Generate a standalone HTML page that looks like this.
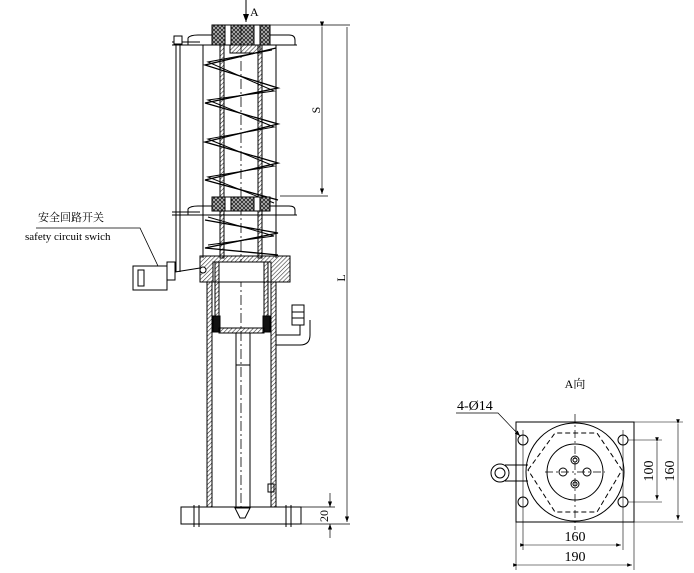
<!DOCTYPE html>
<html><head><meta charset="utf-8"><style>
html,body{margin:0;padding:0;background:#fff;}
svg{display:block;font-family:"Liberation Serif","Noto Serif CJK SC",serif;}
</style></head><body>
<svg width="694" height="573" viewBox="0 0 694 573" xmlns="http://www.w3.org/2000/svg">
<defs>
<pattern id="h" width="3" height="3" patternUnits="userSpaceOnUse" patternTransform="rotate(45)"><line x1="0" y1="0" x2="0" y2="3" stroke="#333" stroke-width="1.2"/></pattern>
<pattern id="x" width="4" height="4" patternUnits="userSpaceOnUse"><rect width="4" height="4" fill="#bbb"/><path d="M0 0L4 4M4 0L0 4" stroke="#222" stroke-width="0.8"/></pattern>
<marker id="ar" markerWidth="8" markerHeight="6" refX="8" refY="3" orient="auto"><path d="M0 0L8 3L0 6z" fill="#000"/></marker>
</defs>
<g stroke="#000" stroke-width="1" fill="none">
<line x1="246" y1="0" x2="246" y2="22" marker-end="url(#ar)"/>
<rect x="212" y="25" width="58" height="20" fill="url(#x)"/>
<rect x="225" y="25" width="6" height="20" fill="#fff"/><rect x="254" y="25" width="6" height="20" fill="#fff"/>
<path d="M188 45 L188 38 Q190 35 198 35 L212 35 M270 35 L289 35 Q295 35 295 40 L295 45" />
<line x1="172" y1="45" x2="297" y2="45"/><line x1="172" y1="42" x2="200" y2="42"/>
<rect x="174" y="36" width="8" height="8" fill="#fff"/>
<rect x="230" y="45" width="30" height="8" fill="url(#h)"/>
<line x1="176" y1="45" x2="176" y2="272"/><line x1="180" y1="45" x2="180" y2="272"/>
<line x1="203" y1="45" x2="203" y2="258"/><line x1="276" y1="45" x2="276" y2="258"/>
<rect x="220" y="45" width="4" height="213" fill="url(#h)"/>
<rect x="258" y="45" width="4" height="213" fill="url(#h)"/>
<line x1="241" y1="25" x2="241" y2="520" stroke-dasharray="10,3,2,3" stroke-width="0.8"/>
<polyline stroke-width="1.3" points="276,48 205,65 278,88 205,103 278,124 205,142 278,163 205,180 278,200"/>
<polyline stroke-width="1" points="272,50 208,62 274,91 208,100 274,127 208,139 274,166 208,177 274,203"/>
<polyline stroke-width="1.3" points="205,220 278,233 205,248 278,255"/>
<polyline stroke-width="1" points="208,217 274,236 208,245"/>
<rect x="212" y="197" width="58" height="14" fill="url(#x)"/>
<rect x="225" y="197" width="6" height="14" fill="#fff"/><rect x="254" y="197" width="6" height="14" fill="#fff"/>
<path d="M188 215 L188 209 Q190 206 198 206 L212 206 M270 206 L289 206 Q295 206 295 210 L295 215"/>
<line x1="172" y1="215" x2="297" y2="215"/><line x1="172" y1="212" x2="200" y2="212"/>
<rect x="200" y="256" width="90" height="26" fill="url(#h)"/>
<rect x="213" y="262" width="58" height="20" fill="#fff"/>
<circle cx="203" cy="270" r="3" fill="#fff"/>
<rect x="133" y="266" width="34" height="24" fill="#fff"/>
<rect x="138" y="270" width="6" height="16"/>
<rect x="167" y="262" width="8" height="18"/>
<line x1="175" y1="272" x2="200" y2="268"/>
<path d="M36 228 L140 228 L158 266" stroke-width="0.8"/>
<rect x="207" y="282" width="5" height="226" fill="url(#h)"/>
<rect x="271" y="282" width="5" height="226" fill="url(#h)"/>
<rect x="215" y="262" width="4" height="55" fill="url(#h)"/>
<rect x="264" y="262" width="4" height="55" fill="url(#h)"/>
<rect x="213" y="316" width="7" height="16" fill="#111"/>
<rect x="263" y="316" width="7" height="16" fill="#111"/>
<rect x="219" y="328" width="45" height="5" fill="url(#h)"/>
<line x1="236" y1="333" x2="236" y2="508"/><line x1="250" y1="333" x2="250" y2="508"/>
<line x1="236" y1="365" x2="250" y2="365"/>
<path d="M276 335 L300 335 L300 320 M276 345 L300 345 Q310 345 310 335 L310 320"/>
<rect x="292" y="305" width="12" height="20" fill="#fff"/>
<line x1="292" y1="312" x2="304" y2="312"/><line x1="292" y1="318" x2="304" y2="318"/>
<rect x="268" y="484" width="6" height="8"/>
<rect x="181" y="507" width="120" height="17" fill="#fff"/>
<line x1="194" y1="505" x2="194" y2="527"/><line x1="199" y1="505" x2="199" y2="527"/>
<line x1="286" y1="505" x2="286" y2="527"/><line x1="291" y1="505" x2="291" y2="527"/>
<path d="M235 508 L250 508 L245 518 L240 518 Z"/>
<line x1="270" y1="25" x2="350" y2="25" stroke-width="0.7"/>
<line x1="280" y1="196" x2="328" y2="196" stroke-width="0.7"/>
<line x1="322" y1="27" x2="322" y2="194" stroke-width="0.7" marker-end="url(#ar)" marker-start="url(#ar)"/>
<line x1="347" y1="27" x2="347" y2="522" stroke-width="0.7" marker-end="url(#ar)"/>
<line x1="301" y1="507" x2="335" y2="507" stroke-width="0.7"/>
<line x1="301" y1="524" x2="350" y2="524" stroke-width="0.7"/>
<line x1="330" y1="493" x2="330" y2="507" stroke-width="0.7" marker-end="url(#ar)"/>
<line x1="330" y1="538" x2="330" y2="524" stroke-width="0.7" marker-end="url(#ar)"/>
<rect x="516" y="422" width="118" height="100"/>
<circle cx="575" cy="472" r="49"/>
<polygon points="528,470 555,433 597,433 622,470 597,512 555,512" stroke-dasharray="5,3"/>
<circle cx="575" cy="472" r="28"/>
<line x1="575" y1="414" x2="575" y2="530" stroke-dasharray="8,3,2,3" stroke-width="0.7"/>
<line x1="545" y1="472" x2="605" y2="472" stroke-dasharray="8,3,2,3" stroke-width="0.7"/>
<circle cx="575" cy="460" r="4"/><circle cx="575" cy="460" r="2"/>
<circle cx="575" cy="484" r="4"/><circle cx="575" cy="484" r="2"/>
<circle cx="563" cy="472" r="4"/><circle cx="587" cy="472" r="4"/>
<circle cx="523" cy="440" r="5"/><circle cx="623" cy="440" r="5"/>
<circle cx="523" cy="502" r="5"/><circle cx="623" cy="502" r="5"/>
<path d="M505 465 L528 465 M505 481 L528 481"/>
<circle cx="500" cy="473" r="9"/><circle cx="500" cy="473" r="5"/>
<line x1="523" y1="430" x2="523" y2="550" stroke-width="0.6"/>
<line x1="623" y1="430" x2="623" y2="550" stroke-width="0.6"/>
<line x1="516" y1="522" x2="516" y2="570" stroke-width="0.6"/>
<line x1="634" y1="522" x2="634" y2="570" stroke-width="0.6"/>
<line x1="525" y1="545" x2="621" y2="545" stroke-width="0.6" marker-end="url(#ar)" marker-start="url(#ar)"/>
<line x1="518" y1="565" x2="632" y2="565" stroke-width="0.6" marker-end="url(#ar)" marker-start="url(#ar)"/>
<line x1="628" y1="440" x2="662" y2="440" stroke-width="0.6"/>
<line x1="628" y1="502" x2="662" y2="502" stroke-width="0.6"/>
<line x1="634" y1="422" x2="683" y2="422" stroke-width="0.6"/>
<line x1="634" y1="522" x2="683" y2="522" stroke-width="0.6"/>
<line x1="657" y1="442" x2="657" y2="500" stroke-width="0.6" marker-end="url(#ar)" marker-start="url(#ar)"/>
<line x1="678" y1="424" x2="678" y2="520" stroke-width="0.6" marker-end="url(#ar)" marker-start="url(#ar)"/>
<path d="M456 413 L498 413 L520 436" stroke-width="0.7" marker-end="url(#ar)"/>
</g>
<g fill="#000" font-size="12">
<text x="250" y="16">A</text>
<text x="38" y="221" font-size="11">安全回路开关</text>
<text x="25" y="240" font-size="11">safety circuit swich</text>
<text transform="translate(320,110) rotate(-90)" text-anchor="middle">S</text>
<text transform="translate(345,278) rotate(-90)" text-anchor="middle">L</text>
<text transform="translate(328,516) rotate(-90)" text-anchor="middle">20</text>
<text x="575" y="388" text-anchor="middle">A向</text>
<text x="457" y="410" font-size="14">4-Ø14</text>
<text x="575" y="541" text-anchor="middle" font-size="14">160</text>
<text x="575" y="561" text-anchor="middle" font-size="14">190</text>
<text transform="translate(653,471) rotate(-90)" text-anchor="middle" font-size="14">100</text>
<text transform="translate(674,471) rotate(-90)" text-anchor="middle" font-size="14">160</text>
</g>
</svg>
</body></html>
